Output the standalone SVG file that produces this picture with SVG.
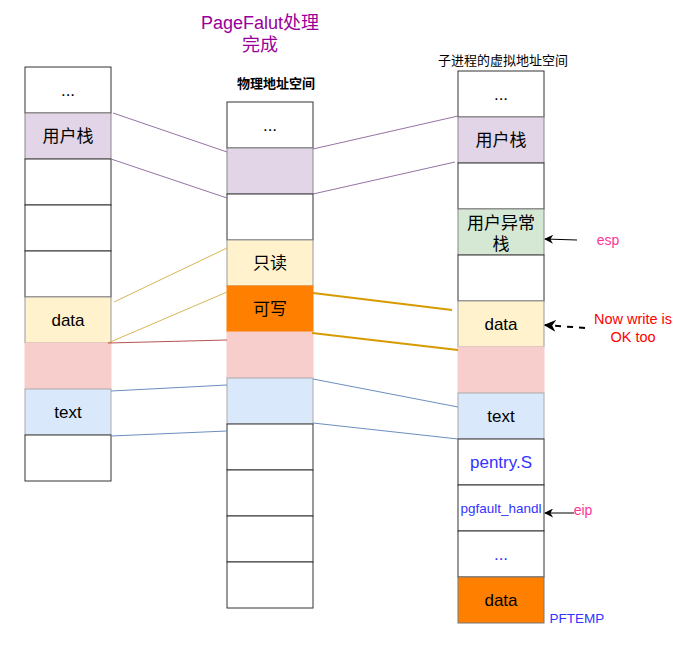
<svg xmlns="http://www.w3.org/2000/svg" width="688" height="651" viewBox="0 0 688 651">
<defs>
<marker id="arr" viewBox="0 0 10 10" refX="9" refY="5" markerWidth="10" markerHeight="9" orient="auto" markerUnits="userSpaceOnUse">
<path d="M0,0 L10,5 L0,10 L3,5 Z" fill="#000"/>
</marker>
<marker id="arr2" viewBox="0 0 10 10" refX="9" refY="5" markerWidth="6" markerHeight="6" orient="auto">
<path d="M0,0 L10,5 L0,10 L3,5 Z" fill="#000"/>
</marker>
</defs>
<style>
text{font-family:"Liberation Sans","Noto Sans CJK SC",sans-serif;text-anchor:middle}
.c{font-size:17px;fill:#000}
.w{fill:#fff;stroke:#333;stroke-width:1}
.pu{fill:#e1d5e7;stroke:#888;stroke-width:1}
.ye{fill:#fff2cc;stroke:#999;stroke-width:1}
.pk{fill:#f8cecc;stroke:#f8cecc;stroke-width:1}
.bl{fill:#dae8fc;stroke:#aaa;stroke-width:1}
.gr{fill:#d5e8d4;stroke:#888;stroke-width:1}
.or{fill:#ff8000;stroke:#ff8000;stroke-width:1}
.or2{fill:#ff8000;stroke:#777;stroke-width:1}
.lp{stroke:#9673a6;fill:none}
.ly{stroke:#d6b656;fill:none}
.lr{stroke:#b85450;fill:none}
.lb{stroke:#6c8ebf;fill:none}
.lg{stroke:#d79b00;stroke-width:2;fill:none}
</style>
<g id="title">
<text x="260" y="29" style="font-size:18px;fill:#990099">PageFalut处理</text>
<text x="260" y="51" style="font-size:18px;fill:#990099">完成</text>
</g>
<g id="left-col">
<rect class="w" x="25" y="67" width="86" height="46"/>
<text class="c" x="68" y="96">...</text>
<rect class="pu" x="25" y="113" width="86" height="46"/>
<text class="c" x="68" y="142">用户栈</text>
<rect class="w" x="25" y="159" width="86" height="46"/>
<rect class="w" x="25" y="205" width="86" height="46"/>
<rect class="w" x="25" y="251" width="86" height="46"/>
<rect class="ye" x="25" y="297" width="86" height="46"/>
<text class="c" x="68" y="326">data</text>
<rect class="pk" x="25" y="343" width="86" height="46"/>
<rect class="bl" x="25" y="389" width="86" height="46"/>
<text class="c" x="68" y="418">text</text>
<rect class="w" x="25" y="435" width="86" height="46"/>
</g>
<g id="mid-col">
<text x="276" y="88" style="font-size:13px;font-weight:bold">物理地址空间</text>
<rect class="w" x="227" y="102" width="86" height="46"/>
<text class="c" x="270" y="131">...</text>
<rect class="pu" x="227" y="148" width="86" height="46"/>
<rect class="w" x="227" y="194" width="86" height="46"/>
<rect class="ye" x="227" y="240" width="86" height="46"/>
<text class="c" x="270" y="269">只读</text>
<rect class="or" x="227" y="286" width="86" height="46"/>
<text class="c" x="270" y="315">可写</text>
<rect class="pk" x="227" y="332" width="86" height="46"/>
<rect class="bl" x="227" y="378" width="86" height="46"/>
<rect class="w" x="227" y="424" width="86" height="46"/>
<rect class="w" x="227" y="470" width="86" height="46"/>
<rect class="w" x="227" y="516" width="86" height="46"/>
<rect class="w" x="227" y="562" width="86" height="46"/>
</g>
<g id="right-col">
<text x="503" y="65" style="font-size:13px">子进程的虚拟地址空间</text>
<rect class="w" x="458" y="71" width="86" height="46"/>
<text class="c" x="501" y="100">...</text>
<rect class="pu" x="458" y="117" width="86" height="46"/>
<text class="c" x="501" y="146">用户栈</text>
<rect class="w" x="458" y="163" width="86" height="46"/>
<rect class="gr" x="458" y="209" width="86" height="46"/>
<text class="c" x="501" y="229">用户异常</text>
<text class="c" x="501" y="250">栈</text>
<rect class="w" x="458" y="255" width="86" height="46"/>
<rect class="ye" x="458" y="301" width="86" height="46"/>
<text class="c" x="501" y="330">data</text>
<rect class="pk" x="458" y="347" width="86" height="46"/>
<rect class="bl" x="458" y="393" width="86" height="46"/>
<text class="c" x="501" y="422">text</text>
<rect class="w" x="458" y="439" width="86" height="46"/>
<text class="c" x="501" y="468" style="fill:#3333ff">pentry.S</text>
<rect class="w" x="458" y="485" width="86" height="46"/>
<text x="501" y="513" style="font-size:13.5px;fill:#3333ff">pgfault_handl</text>
<rect class="w" x="458" y="531" width="86" height="46"/>
<text class="c" x="501" y="560" style="fill:#3333ff">...</text>
<rect class="or2" x="458" y="577" width="86" height="46"/>
<text class="c" x="501" y="606">data</text>
</g>
<g id="labels">
<text x="608" y="245" style="font-size:14px;fill:#ff3399">esp</text>
<text x="633" y="324" style="font-size:14.5px;fill:#ff0000">Now write is</text>
<text x="633" y="342" style="font-size:14.5px;fill:#ff0000">OK too</text>
<text x="583" y="515" style="font-size:14px;fill:#ff3399">eip</text>
<text x="577" y="623" style="font-size:13.5px;fill:#3333ff">PFTEMP</text>
</g>
<g id="connectors">
<line class="lp" x1="113" y1="113" x2="227" y2="152"/>
<line class="lp" x1="111" y1="159" x2="227" y2="198"/>
<line class="lp" x1="313" y1="149" x2="458" y2="116"/>
<line class="lp" x1="313" y1="194" x2="455" y2="162"/>
<line class="ly" x1="114" y1="302" x2="227" y2="248"/>
<line class="ly" x1="108" y1="343" x2="227" y2="292"/>
<line class="lr" x1="108" y1="343" x2="227" y2="340"/>
<line class="lb" x1="111" y1="391" x2="227" y2="385"/>
<line class="lb" x1="111" y1="436" x2="227" y2="431"/>
<line class="lg" x1="313" y1="293" x2="452" y2="310"/>
<line class="lg" x1="312" y1="333" x2="458" y2="350"/>
<line class="lb" x1="313" y1="379" x2="458" y2="407"/>
<line class="lb" x1="313" y1="423" x2="458" y2="439"/>
<line x1="577" y1="240" x2="545" y2="239" stroke="#000" stroke-width="1" marker-end="url(#arr)"/>
<line x1="585" y1="328" x2="545" y2="325" stroke="#000" stroke-width="2" stroke-dasharray="6 6" marker-end="url(#arr2)"/>
<line x1="574" y1="513" x2="545" y2="513" stroke="#000" stroke-width="1" marker-end="url(#arr)"/>
</g>
</svg>
